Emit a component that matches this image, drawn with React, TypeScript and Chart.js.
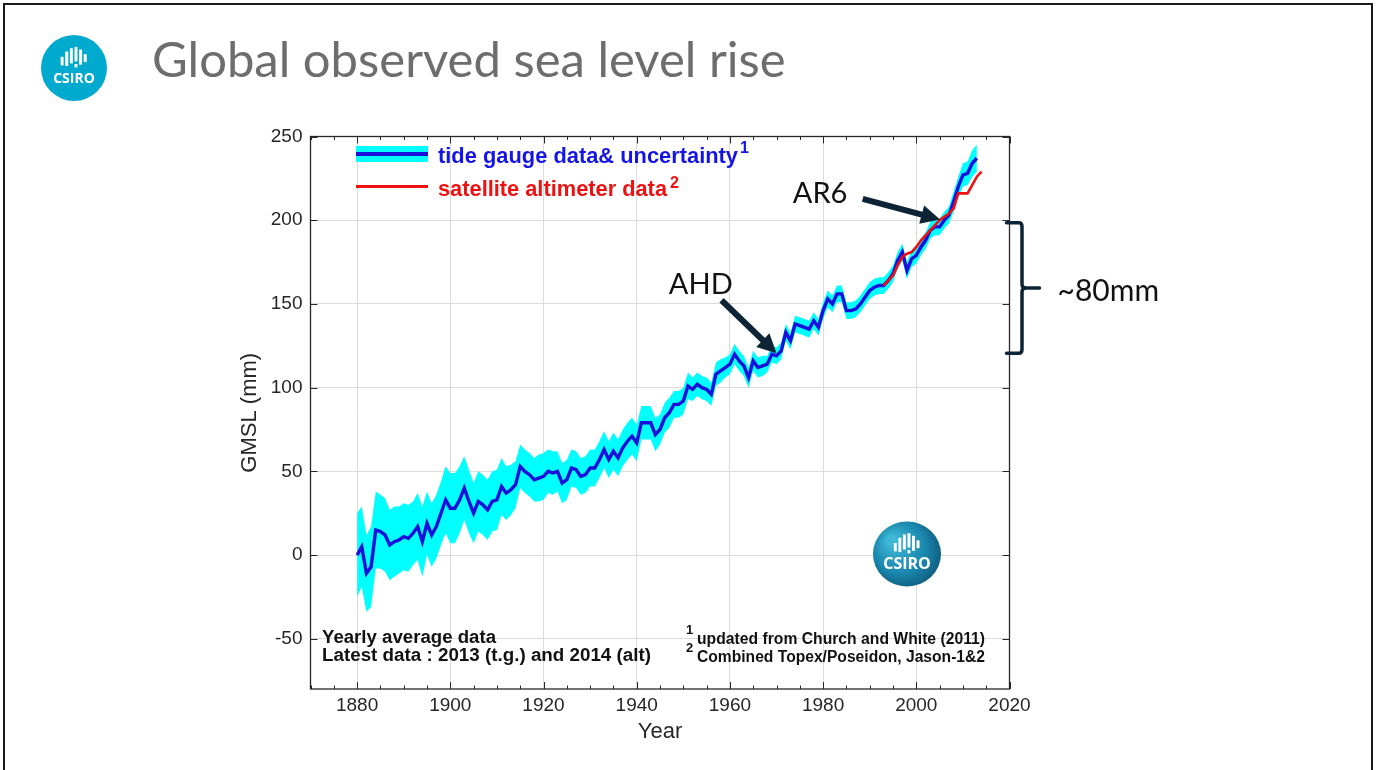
import React, { useEffect, useRef } from 'react';
import { Chart, registerables } from 'chart.js';

Chart.register(...registerables);

// Yearly global mean sea level from tide gauges (mm), 1880–2013
const TIDE_GAUGE_START = 1880;
const tideGauge = [
  0, 5, -11, -7, 15, 14, 12, 6, 8, 9,
  11, 10, 13, 17, 8, 19, 12, 17, 25, 33,
  28, 28, 33, 40, 32, 25, 32, 30, 27, 32,
  33, 41, 37, 39, 42, 53, 50, 48, 45, 46,
  47, 50, 49, 50, 43, 45, 52, 51, 47, 48,
  52, 52, 57, 63, 57, 62, 58, 64, 68, 71,
  67, 79, 79, 79, 72, 75, 82, 85, 90, 90,
  92, 101, 99, 102, 100, 99, 96, 108, 110, 112,
  114, 120, 116, 113, 106, 116, 112, 113, 114, 120,
  119, 122, 133, 128, 138, 137, 136, 135, 140, 136,
  146, 153, 150, 156, 156, 146, 146, 147, 150, 154,
  158, 160, 161, 161, 164, 168, 176, 181, 170, 177,
  179, 184, 188, 194, 196, 196, 200, 203, 211, 220,
  227, 228, 234, 237,
];

// One-sigma uncertainty of the tide gauge estimate (mm)
const tideGaugeUncertainty = [
  25, 24, 23, 24, 23, 22, 22, 21, 21, 20,
  20, 20, 19, 20, 21, 19, 19, 19, 19, 20,
  21, 21, 20, 19, 19, 18, 18, 18, 18, 18,
  18, 17, 16, 15, 14, 13, 13, 13, 13, 14,
  14, 13, 13, 12, 12, 12, 11, 11, 11, 11,
  11, 11, 11, 11, 11, 11, 11, 11, 11, 11,
  11, 10, 10, 10, 10, 9, 9, 9, 8, 8,
  8, 8, 7, 7, 7, 7, 7, 7, 7, 6,
  6, 6, 6, 6, 6, 6, 6, 6, 5, 5,
  5, 5, 5, 5, 5, 5, 5, 5, 5, 5,
  5, 5, 5, 5, 5, 5, 5, 5, 5, 5,
  5, 5, 5, 5, 5, 5, 5, 5, 5, 5,
  5, 5, 5, 5, 5, 5, 5, 5, 6, 6,
  7, 7, 8, 8,
];

// Yearly satellite altimeter GMSL (mm), 1993–2014
const SATELLITE_START = 1993;
const satellite = [
  161, 164, 167, 173, 178, 180, 181, 184, 188, 191,
  194, 197, 200, 202, 204, 207, 216, 216, 216, 221,
  226, 229,
];

const xTickYears = [1880, 1900, 1920, 1940, 1960, 1980, 2000, 2020];
const yTickValues = [-50, 0, 50, 100, 150, 200, 250];
const X_MIN = 1870;
const X_MAX = 2020;
const Y_MIN = -80;
const Y_MAX = 250;

// Arrow call-outs: tail and head in (year, mm)
const callouts = [
  { label: 'AR6', tail: [1988.5, 212.7], head: [2005.1, 200.4], text: [1973.5, 210.5], align: 'left' },
  { label: 'AHD', tail: [1958.2, 152.2], head: [1970.0, 120.5], text: [1960.6, 156.2], align: 'right' },
];
// Brace spanning the rise since the AHD datum
const braceRange = [120.5, 198.5];
const braceLabel = '~80mm';

const SANS = '"Liberation Sans", Arial, Helvetica, sans-serif';
const HUMAN = 'Lato, "Open Sans", sans-serif';
const NAVY = '#0d2436';

// White marks of the CSIRO emblem: [dx, top, bottom] in radius units
const emblemBars: number[][] = [
  [-0.36, -0.34, -0.08],
  [-0.22, -0.5, -0.06],
  [-0.08, -0.6, -0.14],
  [0.06, -0.64, -0.2],
  [0.06, -0.12, -0.02],
  [0.2, -0.56, -0.1],
  [0.34, -0.42, -0.18],
];

function drawEmblem(ctx: CanvasRenderingContext2D, cx: number, cy: number, rx: number, ry: number, fill: string | CanvasGradient, fontSize: number) {
  ctx.save();
  ctx.beginPath();
  ctx.ellipse(cx, cy, rx, ry, 0, 0, Math.PI * 2);
  ctx.fillStyle = fill;
  ctx.fill();
  const r = Math.min(rx, ry);
  ctx.fillStyle = '#ffffff';
  for (const [dx, t, b] of emblemBars) {
    ctx.fillRect(cx + dx * r - 0.045 * r, cy + t * r, 0.09 * r, (b - t) * r);
  }
  ctx.font = `bold ${fontSize}px "Open Sans", ${SANS}`;
  ctx.textAlign = 'center';
  ctx.textBaseline = 'alphabetic';
  ctx.fillText('CSIRO', cx, cy + 0.46 * r);
  ctx.restore();
}

function fitText(ctx: CanvasRenderingContext2D, text: string, x: number, y: number, width: number) {
  const w = ctx.measureText(text).width;
  ctx.save();
  ctx.translate(x, y);
  ctx.scale(width / w, 1);
  ctx.fillText(text, 0, 0);
  ctx.restore();
}

function drawArrow(ctx: CanvasRenderingContext2D, x0: number, y0: number, x1: number, y1: number) {
  const ang = Math.atan2(y1 - y0, x1 - x0);
  const headLen = 19;
  const headHalf = 9.5;
  const bx = x1 - headLen * Math.cos(ang);
  const by = y1 - headLen * Math.sin(ang);
  ctx.save();
  ctx.strokeStyle = NAVY;
  ctx.fillStyle = NAVY;
  ctx.lineWidth = 6;
  ctx.lineCap = 'butt';
  ctx.beginPath();
  ctx.moveTo(x0, y0);
  ctx.lineTo(bx + 2 * Math.cos(ang), by + 2 * Math.sin(ang));
  ctx.stroke();
  ctx.beginPath();
  ctx.moveTo(x1, y1);
  ctx.lineTo(bx - headHalf * Math.sin(ang), by + headHalf * Math.cos(ang));
  ctx.lineTo(bx + headHalf * Math.sin(ang), by - headHalf * Math.cos(ang));
  ctx.closePath();
  ctx.fill();
  ctx.restore();
}

const overlayPlugin = {
  id: 'slideOverlay',
  afterDraw(chart: any) {
    const { ctx, chartArea: a, scales } = chart;
    const x = scales.x;
    const y = scales.y;
    ctx.save();

    // axes box with inward tick marks
    ctx.strokeStyle = '#262626';
    ctx.lineWidth = 1.3;
    ctx.strokeRect(a.left, a.top, a.right - a.left, a.bottom - a.top);
    ctx.lineWidth = 1;
    ctx.beginPath();
    for (let yr = X_MIN; yr <= X_MAX; yr += 5) {
      const px = Math.round(x.getPixelForValue(yr)) + 0.5;
      const len = xTickYears.includes(yr) ? 7 : 3.5;
      ctx.moveTo(px, a.bottom);
      ctx.lineTo(px, a.bottom - len);
      ctx.moveTo(px, a.top);
      ctx.lineTo(px, a.top + len);
    }
    for (const v of yTickValues) {
      const py = Math.round(y.getPixelForValue(v)) + 0.5;
      ctx.moveTo(a.left, py);
      ctx.lineTo(a.left + 7, py);
      ctx.moveTo(a.right, py);
      ctx.lineTo(a.right - 7, py);
    }
    ctx.stroke();

    // legend
    const lx = a.left + 45.5;
    ctx.fillStyle = '#00ffff';
    ctx.fillRect(lx, a.top + 9.5, 72, 16);
    ctx.strokeStyle = '#1a10dc';
    ctx.lineWidth = 4;
    ctx.beginPath();
    ctx.moveTo(lx, a.top + 17.5);
    ctx.lineTo(lx + 72, a.top + 17.5);
    ctx.stroke();
    ctx.strokeStyle = '#ee1111';
    ctx.lineWidth = 3;
    ctx.beginPath();
    ctx.moveTo(lx, a.top + 50);
    ctx.lineTo(lx + 72, a.top + 50);
    ctx.stroke();

    ctx.textAlign = 'left';
    ctx.textBaseline = 'alphabetic';
    ctx.font = `bold 22px ${SANS}`;
    ctx.fillStyle = '#1414e6';
    fitText(ctx, 'tide gauge data& uncertainty', lx + 82, a.top + 26, 300);
    ctx.font = `bold 16px ${SANS}`;
    ctx.fillText('1', lx + 384, a.top + 16.5);
    ctx.font = `bold 22px ${SANS}`;
    ctx.fillStyle = '#ee1111';
    fitText(ctx, 'satellite altimeter data', lx + 82, a.top + 59.5, 229);
    ctx.font = `bold 16px ${SANS}`;
    ctx.fillText('2', lx + 314, a.top + 51);

    // notes inside the axes
    ctx.fillStyle = '#111111';
    ctx.font = `bold 18px ${SANS}`;
    fitText(ctx, 'Yearly average data', a.left + 11.5, a.bottom - 46, 174);
    fitText(ctx, 'Latest data : 2013 (t.g.) and 2014 (alt)', a.left + 11.5, a.bottom - 28, 329);
    ctx.font = `bold 16px ${SANS}`;
    fitText(ctx, 'updated from Church and White (2011)', a.left + 386.5, a.bottom - 45, 288);
    fitText(ctx, 'Combined Topex/Poseidon, Jason-1&2', a.left + 386.5, a.bottom - 27, 288);
    ctx.font = `bold 13px ${SANS}`;
    ctx.fillText('1', a.left + 375.5, a.bottom - 55);
    ctx.fillText('2', a.left + 375.5, a.bottom - 37);

    // emblem inside the axes
    const ecx = a.left + 596.5;
    const ecy = a.top + 417.5;
    const grad = ctx.createRadialGradient(ecx - 16, ecy - 14, 4, ecx, ecy, 44);
    grad.addColorStop(0, '#3fb8d6');
    grad.addColorStop(0.55, '#1a86ad');
    grad.addColorStop(1, '#0a4866');
    drawEmblem(ctx, ecx, ecy, 34, 32.5, grad, 16);

    // arrow call-outs
    ctx.font = `29px ${HUMAN}`;
    ctx.fillStyle = '#111111';
    for (const c of callouts) {
      drawArrow(
        ctx,
        x.getPixelForValue(c.tail[0]), y.getPixelForValue(c.tail[1]),
        x.getPixelForValue(c.head[0]), y.getPixelForValue(c.head[1]),
      );
      ctx.textAlign = c.align as CanvasTextAlign;
      ctx.fillText(c.label, x.getPixelForValue(c.text[0]), y.getPixelForValue(c.text[1]));
    }

    // brace on the right of the axes
    const bTop = y.getPixelForValue(braceRange[1]);
    const bBot = y.getPixelForValue(braceRange[0]);
    const bMid = (bTop + bBot) / 2;
    const bx0 = a.right - 3;
    const bx1 = a.right + 12.5;
    const bx2 = a.right + 30;
    ctx.strokeStyle = NAVY;
    ctx.lineWidth = 3.5;
    ctx.lineJoin = 'round';
    ctx.lineCap = 'round';
    ctx.beginPath();
    ctx.moveTo(bx0, bTop);
    ctx.lineTo(bx1 - 3, bTop);
    ctx.quadraticCurveTo(bx1, bTop, bx1, bTop + 4);
    ctx.lineTo(bx1, bMid - 4);
    ctx.quadraticCurveTo(bx1, bMid, bx1 + 4, bMid);
    ctx.lineTo(bx2, bMid);
    ctx.moveTo(bx1 + 4, bMid);
    ctx.quadraticCurveTo(bx1, bMid, bx1, bMid + 4);
    ctx.lineTo(bx1, bBot - 4);
    ctx.quadraticCurveTo(bx1, bBot, bx1 - 3, bBot);
    ctx.lineTo(bx0, bBot);
    ctx.stroke();
    ctx.textAlign = 'left';
    ctx.font = `30px ${HUMAN}`;
    ctx.fillStyle = '#111111';
    ctx.fillText(braceLabel, a.right + 48, bMid + 13);

    // slide emblem
    drawEmblem(ctx, 74, 68, 33, 33, '#00a9ce', 14);

    ctx.restore();
  },
};

export default function App() {
  const canvasRef = useRef<HTMLCanvasElement>(null);

  useEffect(() => {
    const canvas = canvasRef.current;
    if (!canvas) return;
    const tgPoints = tideGauge.map((v, i) => ({ x: TIDE_GAUGE_START + i, y: v }));
    const upper = tideGauge.map((v, i) => ({ x: TIDE_GAUGE_START + i, y: v + tideGaugeUncertainty[i] }));
    const lower = tideGauge.map((v, i) => ({ x: TIDE_GAUGE_START + i, y: v - tideGaugeUncertainty[i] }));
    const satPoints = satellite.map((v, i) => ({ x: SATELLITE_START + i, y: v }));

    const chart = new Chart(canvas, {
      type: 'line',
      data: {
        datasets: [
          {
            label: 'satellite altimeter data',
            data: satPoints,
            borderColor: '#ee1111',
            borderWidth: 2.6,
            pointRadius: 0,
            fill: false,
            tension: 0,
            order: 0,
          },
          {
            label: 'tide gauge data',
            data: tgPoints,
            borderColor: '#1a10dc',
            borderWidth: 3.4,
            pointRadius: 0,
            fill: false,
            tension: 0,
            order: 1,
          },
          {
            label: 'upper bound',
            data: upper,
            borderColor: 'rgba(0,0,0,0)',
            borderWidth: 1,
            pointRadius: 0,
            fill: false,
            tension: 0,
            order: 3,
          },
          {
            label: 'lower bound',
            data: lower,
            borderColor: 'rgba(0,0,0,0)',
            borderWidth: 1,
            pointRadius: 0,
            fill: '-1',
            backgroundColor: '#00ffff',
            tension: 0,
            order: 2,
          },
        ],
      },
      options: {
        animation: false,
        responsive: false,
        devicePixelRatio: 1,
        layout: { padding: { left: 0, top: 136.5, right: 366.5, bottom: 0 } },
        plugins: {
          legend: { display: false },
          tooltip: { enabled: false },
        },
        scales: {
          x: {
            type: 'linear',
            min: X_MIN,
            max: X_MAX,
            afterBuildTicks: (s: any) => {
              s.ticks = xTickYears.map((v) => ({ value: v }));
            },
            afterFit: (s: any) => {
              s.height = 81;
            },
            grid: { color: '#dcdcdc', drawTicks: false, lineWidth: 1 },
            border: { display: false },
            ticks: {
              font: { family: SANS, size: 19 },
              color: '#262626',
              padding: 5,
              maxRotation: 0,
              autoSkip: false,
              callback: (v: any) => String(v),
            },
            title: {
              display: true,
              text: 'Year',
              font: { family: SANS, size: 22 },
              color: '#262626',
              padding: { top: 0, bottom: 24.8 },
            },
          },
          y: {
            type: 'linear',
            min: Y_MIN,
            max: Y_MAX,
            afterBuildTicks: (s: any) => {
              s.ticks = yTickValues.map((v) => ({ value: v }));
            },
            afterFit: (s: any) => {
              s.width = 310.5;
            },
            grid: { color: '#dcdcdc', drawTicks: false, lineWidth: 1 },
            border: { display: false },
            ticks: {
              font: { family: SANS, size: 19 },
              color: '#262626',
              padding: 8,
              callback: (v: any) => String(v),
            },
            title: {
              display: true,
              text: 'GMSL (mm)',
              font: { family: SANS, size: 22 },
              color: '#262626',
              padding: { top: 236.8, bottom: 0 },
            },
          },
        },
      },
      plugins: [overlayPlugin],
    });

    return () => chart.destroy();
  }, []);

  return (
    <div style={{ position: 'fixed', left: 0, top: 0, width: 1376, height: 770, background: '#ffffff', overflow: 'hidden' }}>
      <div
        style={{
          position: 'absolute',
          left: 3,
          top: 3,
          width: 1370,
          height: 800,
          border: '2px solid #1a1a1a',
          boxSizing: 'border-box',
        }}
      />
      <canvas ref={canvasRef} width={1376} height={770} style={{ position: 'absolute', left: 0, top: 0 }} />
      <div
        style={{
          position: 'absolute',
          left: 152,
          top: 30,
          fontFamily: HUMAN,
          fontSize: 49,
          lineHeight: '56px',
          color: '#6d6d6d',
          whiteSpace: 'nowrap',
        }}
      >
        Global observed sea level rise
      </div>
    </div>
  );
}
